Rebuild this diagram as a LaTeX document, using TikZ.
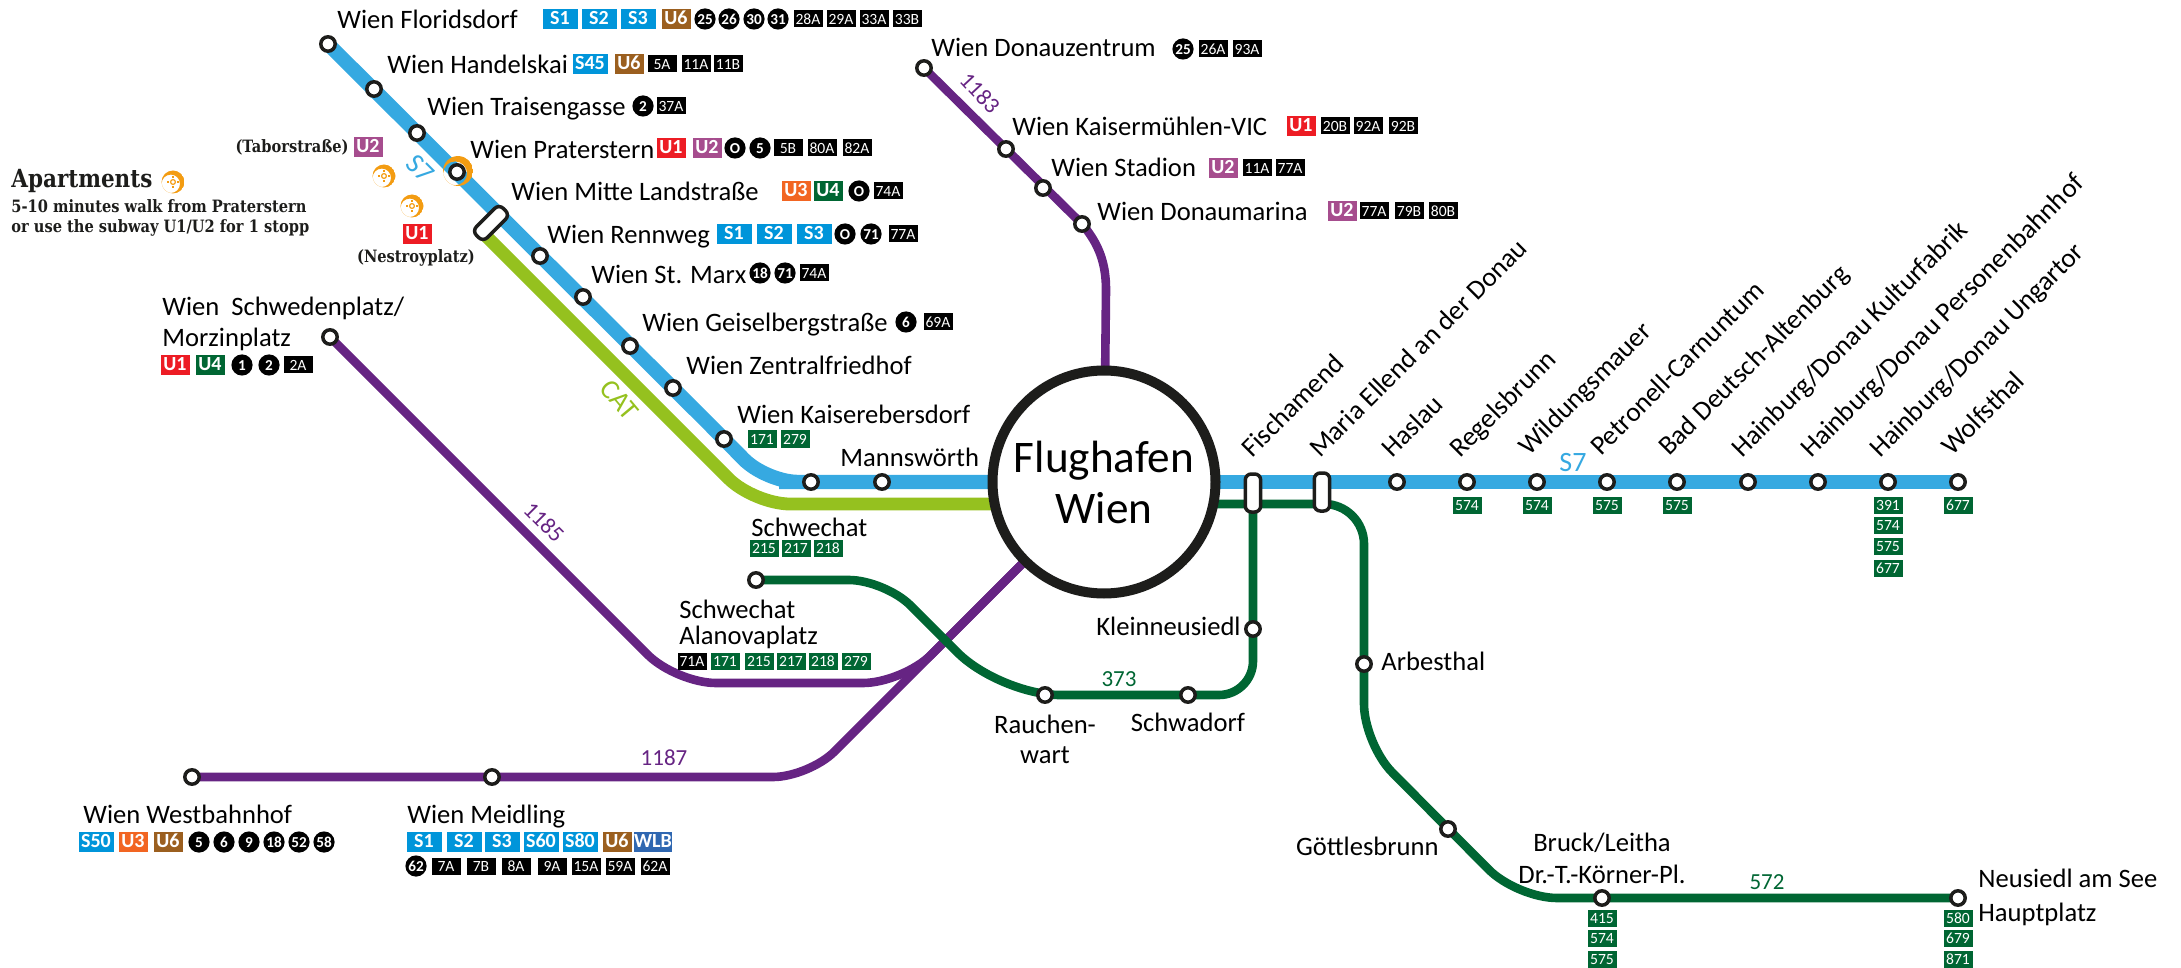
\documentclass[tikz,border=0pt]{standalone}
\usepackage{fontspec}
\usetikzlibrary{backgrounds}
\setmainfont{Carlito}
\newfontfamily\slabfont[FakeStretch=0.86]{DejaVu Serif}
\definecolor{lineblue}{HTML}{36A9E1}
\definecolor{sblue}{HTML}{0095DA}
\definecolor{linegreen}{HTML}{006633}
\definecolor{linepurple}{HTML}{662483}
\definecolor{linelime}{HTML}{95C11F}
\definecolor{ringblack}{HTML}{1D1D1B}
\definecolor{uone}{HTML}{ED1C24}
\definecolor{utwo}{HTML}{A64D8E}
\definecolor{uthree}{HTML}{F26522}
\definecolor{usix}{HTML}{9B5F1F}
\definecolor{wlbblue}{HTML}{2F67B1}
\definecolor{aptorange}{HTML}{F39C12}
\tikzset{
  stop/.style={circle,draw=ringblack,fill=white,line width=1.75pt,minimum size=7.2pt,inner sep=0pt},
  pill/.style={draw=ringblack,fill=white,line width=1.75pt,minimum width=7.7pt,minimum height=19pt,rounded corners=3pt,inner sep=0pt},
  lab/.style={font=\fontsize{13.3}{15}\selectfont,inner sep=0pt,anchor=west},
  stn/.style={lab,text height=11.6pt,text depth=3pt},
  tilted/.style={font=\fontsize{13.6}{15}\selectfont,inner sep=0pt,anchor=base west,rotate=45},
  linelab/.style={font=\fontsize{11.5}{13}\selectfont,inner sep=0pt},
  bigline/.style={font=\fontsize{14}{15}\selectfont,inner sep=0pt},
  badge/.style={inner sep=0pt,text=white,text height=5.4pt,text depth=0pt},
  rail/.style={badge,minimum width=17.5pt,minimum height=10pt,font=\bfseries\fontsize{10}{10}\selectfont},
  metro/.style={rail,minimum width=14.5pt},
  bus/.style={badge,fill=black,minimum width=14.5pt,minimum height=8.5pt,font=\fontsize{7.8}{8}\selectfont},
  gbus/.style={bus,fill=linegreen},
  tram/.style={circle,badge,fill=black,minimum size=10.6pt,font=\bfseries\fontsize{7.6}{8}\selectfont},
  slab/.style={inner sep=0pt,anchor=west,font=\slabfont\bfseries\fontsize{8.5}{10}\selectfont,text=ringblack},
  aptmark/.pic={
    \begin{scope}
      \clip (0,0) circle (11.5);
      \fill[aptorange,even odd rule] (0,0) circle (11.5) (-2.2,1.8) circle (9.2);
    \end{scope}
    \draw[aptorange,line width=0.6pt] (0,0) circle (2.4);
    \draw[aptorange,line width=0.6pt] (-6,0) -- (-4,0) (4,0) -- (6,0) (0,-6) -- (0,-4) (0,4) -- (0,6);
  }
}
\begin{document}
\begin{tikzpicture}[x=0.5pt,y=-0.5pt]
  \useasboundingbox (0,0) rectangle (2181,968);

  \node[circle,draw=ringblack,fill=white,line width=5pt,minimum size=111.5pt,inner sep=0pt,align=center,font=\fontsize{22.6}{25.5}\selectfont] (hub) at (1104,482) {Flughafen\\Wien};

  \node[stop] (floridsdorf) at (328,44) {};
  \node[stop] (handelskai) at (374,89) {};
  \node[stop] (traisen) at (417,133) {};
  \node[stop] (prater) at (457,172) {};
  \node[pill,rotate=-45] (mitte) at (491,223) {};
  \node[stop] (rennweg) at (540,256) {};
  \node[stop] (marx) at (583,297) {};
  \node[stop] (geisel) at (630,346) {};
  \node[stop] (zentral) at (673,388) {};
  \node[stop] (kaiser) at (724,439) {};
  \node[stop] (kaiserE) at (811,482) {};
  \node[stop] (mannsw) at (882,482) {};
  \node[pill] (fischa) at (1253,493) {};
  \node[pill] (maria) at (1322,492) {};
  \node[stop] (haslau) at (1397,482) {};
  \node[stop] (regels) at (1467,482) {};
  \node[stop] (wildung) at (1537,482) {};
  \node[stop] (petro) at (1607,482) {};
  \node[stop] (badD) at (1677,482) {};
  \node[stop] (hainK) at (1748,482) {};
  \node[stop] (hainP) at (1818,482) {};
  \node[stop] (hainU) at (1888,482) {};
  \node[stop] (wolfs) at (1958,482) {};

  \node[stop] (donauz) at (924,68) {};
  \node[stop] (kaiserm) at (1006,149) {};
  \node[stop] (stadion) at (1043,188) {};
  \node[stop] (marina) at (1082,224) {};
  \node[stop] (schwed) at (330,337) {};
  \node[stop] (westb) at (192,777) {};
  \node[stop] (meidl) at (492,777) {};
  \node[stop] (schwe) at (756,580) {};
  \node[stop] (rauch) at (1045,695) {};
  \node[stop] (schwad) at (1188,695) {};
  \node[stop] (kleinn) at (1253,629) {};
  \node[stop] (arbes) at (1364,664) {};
  \node[stop] (goett) at (1448,829) {};
  \node[stop] (bruck) at (1602,898) {};
  \node[stop] (neus) at (1958,898) {};

  \coordinate (hubLow) at (1150,504);
  \coordinate (catStart) at (485,235);
  \coordinate (bendBlue) at (766,482);
  \coordinate (bendCat) at (754,504);
  \coordinate (bendMarinaA) at (1100,245);
  \coordinate (bendMarinaB) at (1106,265);
  \coordinate (bendMarinaC) at (1106,290);
  \coordinate (bendWest) at (809,777);
  \coordinate (bendSchwA) at (676,683);
  \coordinate (bendSchwB) at (903,683);
  \coordinate (bendGrA) at (885,580);
  \coordinate (bendGrB) at (1000,695);
  \coordinate (bendGrC) at (1253,695);
  \coordinate (bendBrA) at (1364,504);
  \coordinate (bendBrB) at (1364,744);
  \coordinate (bendBrC) at (1517,898);

  \begin{scope}[on background layer]
    \draw[lineblue,line width=7.2pt,rounded corners=16pt] (floridsdorf.center) -- (kaiser.center) -- (bendBlue) -- (kaiserE.center) -- (hub.center);
    \draw[lineblue,line width=7.2pt] (hub.center) -- (wolfs.center);
    \draw[linelime,line width=6.4pt,rounded corners=18pt] (catStart) -- (bendCat) -- (hubLow);
    \draw[linepurple,line width=4.3pt] (donauz.center) -- (marina.center) .. controls (bendMarinaA) and (bendMarinaB) .. (bendMarinaC) -- (hub.center);
    \draw[linepurple,line width=4.3pt,rounded corners=18pt] (westb.center) -- (bendWest) -- (hub.center);
    \draw[linepurple,line width=4.3pt,rounded corners=20pt] (schwed.center) -- (bendSchwA) -- (bendSchwB) -- (hub.center);
    \draw[linegreen,line width=4.3pt,rounded corners=18pt] (schwe.center) -- (bendGrA) [rounded corners=30pt] -- (bendGrB) [rounded corners=17pt] -- (bendGrC) -- (fischa.center);
    \draw[linegreen,line width=4.3pt,rounded corners=20pt] (hubLow) -- (bendBrA) -- (bendBrB) -- (bendBrC) -- (neus.center);
    \pic[scale=1.3] (aptPrater) at (458,171) {aptmark};
  \end{scope}

  \pic (aptHome) at (173,182) {aptmark};
  \pic (aptTabor) at (384,176) {aptmark};
  \pic (aptNestroy) at (412,206) {aptmark};

  \node[stn] (labFlorid) at (337,20) {Wien Floridsdorf};
  \node[rail,fill=sblue] (flS1) at (560,19) {S1};
  \node[rail,fill=sblue] (flS2) at (599,19) {S2};
  \node[rail,fill=sblue] (flS3) at (638,19) {S3};
  \node[metro,fill=usix] (flU6) at (676,19) {U6};
  \node[tram] (fl25) at (705,19) {25};
  \node[tram] (fl26) at (729,19) {26};
  \node[tram] (fl30) at (754,19) {30};
  \node[tram] (fl31) at (778,19) {31};
  \node[bus] (fl28A) at (808,19) {28A};
  \node[bus] (fl29A) at (841,19) {29A};
  \node[bus] (fl33A) at (874,19) {33A};
  \node[bus] (fl33B) at (907,19) {33B};

  \node[stn] (labHandel) at (387,65) {Wien Handelskai};
  \node[rail,fill=sblue] (haS45) at (590,64) {S45};
  \node[metro,fill=usix] (haU6) at (629,64) {U6};
  \node[bus] (ha5A) at (662,64) {5A};
  \node[bus] (ha11A) at (696,64) {11A};
  \node[bus] (ha11B) at (728,64) {11B};

  \node[stn] (labTraisen) at (427,107) {Wien Traisengasse};
  \node[tram] (tr2) at (643,106) {2};
  \node[bus] (tr37A) at (671,106) {37A};

  \node[stn] (labPrater) at (470,150) {Wien Praterstern};
  \node[metro,fill=uone] (prU1) at (671,148) {U1};
  \node[metro,fill=utwo] (prU2) at (707,148) {U2};
  \node[tram] (prO) at (735,148) {O};
  \node[tram] (pr5) at (760,148) {5};
  \node[bus] (pr5B) at (788,148) {5B};
  \node[bus] (pr80A) at (822,148) {80A};
  \node[bus] (pr82A) at (857,148) {82A};

  \node[stn] (labMitte) at (511,192) {Wien Mitte Landstraße};
  \node[metro,fill=uthree] (miU3) at (796,191) {U3};
  \node[metro,fill=linegreen] (miU4) at (828,191) {U4};
  \node[tram] (miO) at (859,191) {O};
  \node[bus] (mi74A) at (888,191) {74A};

  \node[stn] (labRenn) at (547,235) {Wien Rennweg};
  \node[rail,fill=sblue] (reS1) at (734,234) {S1};
  \node[rail,fill=sblue] (reS2) at (774,234) {S2};
  \node[rail,fill=sblue] (reS3) at (814,234) {S3};
  \node[tram] (reO) at (845,234) {O};
  \node[tram] (re71) at (871,234) {71};
  \node[bus] (re77A) at (903,234) {77A};

  \node[stn] (labMarx) at (591,275) {Wien St. Marx};
  \node[tram] (ma18) at (760,273) {18};
  \node[tram] (ma71) at (785,273) {71};
  \node[bus] (ma74A) at (814,273) {74A};

  \node[stn] (labGeisel) at (642,323) {Wien Geiselbergstraße};
  \node[tram] (ge6) at (906,322) {6};
  \node[bus] (ge69A) at (938,322) {69A};

  \node[stn] (labZentral) at (686,366) {Wien Zentralfriedhof};
  \node[stn] (labKaiser) at (737,415) {Wien Kaiserebersdorf};
  \node[gbus] (ka171) at (762,439) {171};
  \node[gbus] (ka279) at (795,439) {279};
  \node[stn] (labMannsw) at (840,458) {Mannswörth};

  \node[lab,align=left] (labSchwed) at (162,324) {Wien\ \ Schwedenplatz/\\[0.5pt]Morzinplatz};
  \node[metro,fill=uone] (scU1) at (175,365) {U1};
  \node[metro,fill=linegreen] (scU4) at (210,365) {U4};
  \node[tram] (sc1) at (242,365) {1};
  \node[tram] (sc2) at (269,365) {2};
  \node[bus] (sc2A) at (298,365) {2A};

  \node[stn] (labSchwe) at (751,528) {Schwechat};
  \node[gbus] (sw215) at (764,548) {215};
  \node[gbus] (sw217) at (796,548) {217};
  \node[gbus] (sw218) at (828,548) {218};

  \node[lab,align=left] (labAlano) at (679,624) {Schwechat\\[-2pt]Alanovaplatz};
  \node[bus] (al71A) at (692,661) {71A};
  \node[gbus] (al171) at (725,661) {171};
  \node[gbus] (al215) at (759,661) {215};
  \node[gbus] (al217) at (791,661) {217};
  \node[gbus] (al218) at (823,661) {218};
  \node[gbus] (al279) at (856,661) {279};

  \node[stn] (labWestb) at (83,815) {Wien Westbahnhof};
  \node[rail,fill=sblue] (weS50) at (96,842) {S50};
  \node[metro,fill=uthree] (weU3) at (133,842) {U3};
  \node[metro,fill=usix] (weU6) at (168,842) {U6};
  \node[tram] (we5) at (199,842) {5};
  \node[tram] (we6) at (224,842) {6};
  \node[tram] (we9) at (249,842) {9};
  \node[tram] (we18) at (274,842) {18};
  \node[tram] (we52) at (299,842) {52};
  \node[tram] (we58) at (324,842) {58};

  \node[stn] (labMeidl) at (407,815) {Wien Meidling};
  \node[rail,fill=sblue] (meS1) at (424,842) {S1};
  \node[rail,fill=sblue] (meS2) at (464,842) {S2};
  \node[rail,fill=sblue] (meS3) at (502,842) {S3};
  \node[rail,fill=sblue] (meS60) at (541,842) {S60};
  \node[rail,fill=sblue] (meS80) at (580,842) {S80};
  \node[metro,fill=usix] (meU6) at (617,842) {U6};
  \node[rail,fill=wlbblue] (meWLB) at (653,842) {WLB};
  \node[tram] (me62) at (416,866) {62};
  \node[bus] (me7A) at (446,866) {7A};
  \node[bus] (me7B) at (481,866) {7B};
  \node[bus] (me8A) at (516,866) {8A};
  \node[bus] (me9A) at (552,866) {9A};
  \node[bus] (me15A) at (586,866) {15A};
  \node[bus] (me59A) at (620,866) {59A};
  \node[bus] (me62A) at (655,866) {62A};

  \node[stn] (labDonauz) at (931,48) {Wien Donauzentrum};
  \node[tram] (do25) at (1183,49) {25};
  \node[bus] (do26A) at (1213,49) {26A};
  \node[bus] (do93A) at (1247,49) {93A};
  \node[stn] (labKaiserm) at (1012,127) {Wien Kaisermühlen-VIC};
  \node[metro,fill=uone] (kmU1) at (1301,126) {U1};
  \node[bus] (km20B) at (1335,126) {20B};
  \node[bus] (km92A) at (1368,126) {92A};
  \node[bus] (km92B) at (1403,126) {92B};
  \node[stn] (labStadion) at (1051,168) {Wien Stadion};
  \node[metro,fill=utwo] (stU2) at (1223,168) {U2};
  \node[bus] (st11A) at (1257,168) {11A};
  \node[bus] (st77A) at (1290,168) {77A};
  \node[stn] (labMarina) at (1097,212) {Wien Donaumarina};
  \node[metro,fill=utwo] (dmU2) at (1342,211) {U2};
  \node[bus] (dm77A) at (1374,211) {77A};
  \node[bus] (dm79B) at (1409,211) {79B};
  \node[bus] (dm80B) at (1443,211) {80B};

  \node[tilted] (labFischa) at (1252,459) {Fischamend};
  \node[tilted] (labMaria) at (1320,459) {Maria Ellend an der Donau};
  \node[tilted] (labHaslau) at (1392,459) {Haslau};
  \node[tilted] (labRegels) at (1460,459) {Regelsbrunn};
  \node[tilted] (labWildung) at (1529,457) {Wildungsmauer};
  \node[tilted] (labPetro) at (1601,457) {Petronell-Carnuntum};
  \node[tilted] (labBadD) at (1669,457) {Bad Deutsch-Altenburg};
  \node[tilted] (labHainK) at (1742,459) {Hainburg/Donau Kulturfabrik};
  \node[tilted] (labHainP) at (1811,459) {Hainburg/Donau Personenbahnhof};
  \node[tilted] (labHainU) at (1880,459) {Hainburg/Donau Ungartor};
  \node[tilted] (labWolfs) at (1952,457) {Wolfsthal};

  \node[gbus] (re574) at (1467,505) {574};
  \node[gbus] (wi574) at (1537,505) {574};
  \node[gbus] (pe575) at (1607,505) {575};
  \node[gbus] (ba575) at (1677,505) {575};
  \node[gbus] (hu391) at (1888,505) {391};
  \node[gbus] (hu574) at (1888,525) {574};
  \node[gbus] (hu575) at (1888,546) {575};
  \node[gbus] (hu677) at (1888,568) {677};
  \node[gbus] (wo677) at (1958,505) {677};

  \node[stn,anchor=east] (labKleinn) at (1241,627) {Kleinneusiedl};
  \node[stn] (labArbes) at (1381,662) {Arbesthal};
  \node[lab,anchor=center,align=center] (labRauch) at (1045,739) {Rauchen-\\wart};
  \node[stn,anchor=center] (labSchwad) at (1188,723) {Schwadorf};
  \node[stn,anchor=east] (labGoett) at (1439,847) {Göttlesbrunn};
  \node[lab,anchor=center,align=center] (labBruck) at (1602,858) {Bruck/Leitha\\[1pt]Dr.-T.-Körner-Pl.};
  \node[lab,align=left] (labNeus) at (1978,897) {Neusiedl am See\\[2pt]Hauptplatz};
  \node[gbus] (br415) at (1602,918) {415};
  \node[gbus] (br574) at (1602,938) {574};
  \node[gbus] (br575) at (1602,959) {575};
  \node[gbus] (ne580) at (1958,918) {580};
  \node[gbus] (ne679) at (1958,938) {679};
  \node[gbus] (ne871) at (1958,959) {871};

  \node[linelab,text=linepurple,rotate=-47] (num1183) at (980,93) {1183};
  \node[linelab,text=linepurple,rotate=-45] (num1185) at (544,522) {1185};
  \node[linelab,text=linepurple] (num1187) at (664,758) {1187};
  \node[linelab,text=linegreen] (num373) at (1119,679) {373};
  \node[linelab,text=linegreen] (num572) at (1767,882) {572};
  \node[bigline,text=lineblue] (numS7a) at (1573,463) {S7};
  \node[bigline,text=lineblue,rotate=-45] (numS7b) at (420,169) {S7};
  \node[bigline,text=linelime,rotate=-50] (numCAT) at (619,400) {CAT};

  \node[slab,anchor=east] (labTabor) at (349,147) {(Taborstraße)};
  \node[metro,fill=utwo] (taU2) at (368,147) {U2};
  \node[metro,fill=uone] (neU1) at (417,234) {U1};
  \node[slab,anchor=center] (labNestroy) at (416,258) {(Nestroyplatz)};
  \node[slab,font=\slabfont\bfseries\fontsize{12.5}{14}\selectfont] (labApart) at (11,181) {Apartments};
  \node[slab] (labWalk) at (11,206) {5-10 minutes walk from Praterstern};
  \node[slab] (labSubway) at (11,228) {or use the subway U1/U2 for 1 stopp};
\end{tikzpicture}
\end{document}
